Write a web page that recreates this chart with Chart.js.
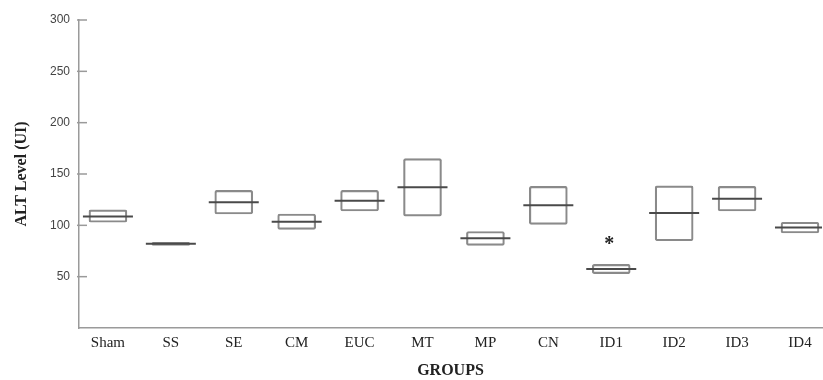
<!DOCTYPE html>
<html><head><meta charset="utf-8">
<script src="https://cdn.jsdelivr.net/npm/chart.js@4/dist/chart.umd.min.js"></script>
<style>html,body{margin:0;padding:0;background:#fff}#wrap{width:823px;height:380px}</style>
</head><body><div id="wrap"><canvas id="c" width="823" height="380"></canvas></div>
<script>
const groups = ['Sham','SS','SE','CM','EUC','MT','MP','CN','ID1','ID2','ID3','ID4'];
const boxLow = [103, 80.5, 111, 96, 114, 109, 80.5, 101, 53, 85, 114, 92.5];
const boxHigh = [115, 83.5, 134, 111, 134, 165, 94, 138, 62, 138.5, 138, 103];
const medians = [108.5, 82, 122.5, 103.5, 124, 137, 87.5, 119.5, 57.5, 112, 126, 98];
const yTicks = [50, 100, 150, 200, 250, 300];
const starGroups = ['ID1'];
const starValues = [85];

const serif = '"Liberation Serif", "Times New Roman", serif';
const sans = '"Liberation Sans", Arial, sans-serif';

const extras = {
  id: 'extras',
  afterDraw(chart) {
    const ctx = chart.ctx, ys = chart.scales.y, xs = chart.scales.x, ca = chart.chartArea;
    ctx.save();
    ctx.strokeStyle = '#9a9a9a';
    ctx.lineWidth = 1.5;
    yTicks.forEach(v => {
      const py = ys.getPixelForValue(v);
      ctx.beginPath();
      ctx.moveTo(ca.left - 2, py);
      ctx.lineTo(ca.left + 8, py);
      ctx.stroke();
    });
    ctx.fillStyle = '#222';
    ctx.font = 'bold 20px ' + serif;
    ctx.textAlign = 'center';
    ctx.textBaseline = 'middle';
    starGroups.forEach((g, k) => {
      const px = xs.getPixelForValue(groups.indexOf(g) + 1);
      const py = ys.getPixelForValue(starValues[k]);
      ctx.fillText('*', px - 2, py + 4);
    });
    ctx.restore();
  }
};

new Chart(document.getElementById('c'), {
  type: 'bar',
  data: {
    datasets: [
      {
        type: 'bar',
        data: groups.map((g, i) => ({ x: i + 1, y: [boxLow[i], boxHigh[i]] })),
        backgroundColor: 'rgba(0,0,0,0)',
        borderColor: '#8a8a8a',
        borderWidth: 1.5,
        borderSkipped: false,
        borderRadius: 2,
        barThickness: 38,
        order: 2
      },
      {
        type: 'line',
        data: groups.map((g, i) => ({ x: i + 1, y: medians[i] })),
        showLine: false,
        pointStyle: 'line',
        pointRadius: 25,
        pointHoverRadius: 25,
        pointBorderWidth: 2,
        pointBorderColor: '#4a4a4a',
        pointBackgroundColor: '#4a4a4a',
        order: 1
      }
    ]
  },
  options: {
    responsive: false,
    devicePixelRatio: 1,
    animation: false,
    layout: { autoPadding: false, padding: { top: 20, right: 1, left: 0, bottom: 0 } },
    plugins: { legend: { display: false }, tooltip: { enabled: false } },
    scales: {
      x: {
        type: 'linear',
        offset: false,
        min: 0.54,
        max: 12.35,
        grid: { display: false, drawTicks: false, offset: false },
        border: { display: true, color: '#9a9a9a', width: 1.5 },
        afterBuildTicks: (axis) => { axis.ticks = groups.map((g, i) => ({ value: i + 1 })); },
        afterFit: (s) => { s.height = 52; },
        ticks: {
          autoSkip: false, maxRotation: 0, padding: 6,
          color: '#222', font: { family: serif, size: 15 },
          callback: (v) => groups[v - 1]
        },
        title: {
          display: true, text: 'GROUPS', color: '#222',
          font: { family: serif, size: 16, weight: 'bold' },
          padding: { top: 0, bottom: 0 }
        }
      },
      y: {
        type: 'linear',
        min: 0,
        max: 300,
        grid: { display: false, drawTicks: false },
        border: { display: true, color: '#9a9a9a', width: 1.5 },
        afterBuildTicks: (axis) => { axis.ticks = yTicks.map(v => ({ value: v })); },
        afterFit: (s) => { s.width = 79; },
        ticks: { padding: 9, color: '#444', font: { family: sans, size: 12 } },
        title: {
          display: true, text: 'ALT Level (UI)', color: '#222',
          font: { family: serif, size: 16, weight: 'bold' },
          padding: { top: 12, bottom: 0 }
        }
      }
    }
  },
  plugins: [extras]
});
</script></body></html>
